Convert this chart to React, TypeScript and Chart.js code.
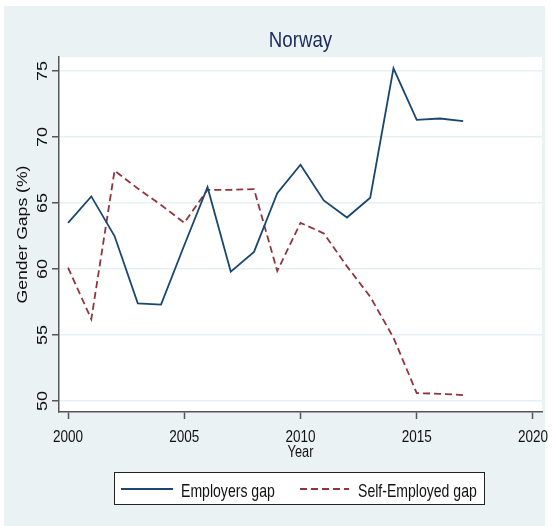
import React, { useEffect, useRef } from "react";
import { Chart, registerables } from "chart.js";

Chart.register(...registerables);

const years = [2000, 2001, 2002, 2003, 2004, 2005, 2006, 2007, 2008, 2009, 2010, 2011, 2012, 2013, 2014, 2015, 2016, 2017];
const employersGap = [63.5, 65.5, 62.5, 57.4, 57.3, 61.8, 66.2, 59.8, 61.3, 65.75, 67.9, 65.2, 63.9, 65.4, 75.2, 71.3, 71.4, 71.2];
const selfEmployedGap = [60.1, 56.2, 67.45, 66.1, 64.85, 63.5, 66.0, 66.0, 66.05, 59.85, 63.5, 62.7, 60.2, 57.9, 54.8, 50.6, 50.55, 50.45];
const seriesLabels = ["Employers gap", "Self-Employed gap"];
const xTicks = [2000, 2005, 2010, 2015, 2020];
const yTicks = [50, 55, 60, 65, 70, 75];
const titleText = "Norway";
const xTitleText = "Year";
const yTitleText = "Gender Gaps (%)";

const FONT = '"Liberation Sans", Arial, Helvetica, sans-serif';

function drawText(
  ctx: CanvasRenderingContext2D,
  text: string,
  x: number,
  y: number,
  size: number,
  sx: number,
  align: CanvasTextAlign,
  color: string,
  rotate = false
) {
  ctx.save();
  ctx.translate(x, y);
  ctx.scale(sx, 1);
  if (rotate) ctx.rotate(-Math.PI / 2);
  ctx.font = `${size}px ${FONT}`;
  ctx.textAlign = align;
  ctx.textBaseline = "alphabetic";
  ctx.fillStyle = color;
  ctx.fillText(text, 0, 0);
  ctx.restore();
}

const bgPlugin = {
  id: "stataBg",
  beforeDraw(chart: any) {
    const { ctx, chartArea } = chart;
    ctx.save();
    ctx.fillStyle = "#ffffff";
    ctx.fillRect(0, 0, chart.width, chart.height);
    ctx.fillStyle = "#eaf2f3";
    ctx.fillRect(4, 6, 541, 520);
    ctx.fillStyle = "#ffffff";
    ctx.fillRect(chartArea.left, chartArea.top, chartArea.right - chartArea.left, chartArea.bottom - chartArea.top);
    ctx.restore();
  },
};

const textPlugin = {
  id: "stataText",
  afterDraw(chart: any) {
    const { ctx, chartArea } = chart;
    const xs = chart.scales.x;
    const ys = chart.scales.y;
    const cx = (chartArea.left + chartArea.right) / 2;
    const cy = (chartArea.top + chartArea.bottom) / 2;

    // Title
    drawText(ctx, titleText, cx, 47.3, 22, 0.85, "center", "#1c2a5c");

    // X tick labels
    xTicks.forEach((t) => {
      drawText(ctx, String(t), xs.getPixelForValue(t), 441.7, 16.5, 0.82, "center", "#111111");
    });
    // X title
    drawText(ctx, xTitleText, cx, 456.7, 16, 0.8, "center", "#111111");

    // Y tick labels (rotated)
    yTicks.forEach((t) => {
      drawText(ctx, String(t), 47, ys.getPixelForValue(t), 18, 0.85, "center", "#111111", true);
    });
    // Y title
    drawText(ctx, yTitleText, 27, cy, 17.6, 0.85, "center", "#111111", true);

    // Legend
    ctx.save();
    ctx.fillStyle = "#ffffff";
    ctx.fillRect(114, 472, 371, 33);
    ctx.strokeStyle = "#222222";
    ctx.lineWidth = 1;
    ctx.strokeRect(114.5, 472.5, 370, 32);
    const ds = chart.data.datasets;
    const items = [
      { x0: 121, x1: 173, tx: 181 },
      { x0: 300, x1: 349, tx: 358 },
    ];
    items.forEach((it, i) => {
      ctx.save();
      ctx.strokeStyle = ds[i].borderColor;
      ctx.lineWidth = 2;
      ctx.setLineDash(ds[i].borderDash || []);
      ctx.beginPath();
      ctx.moveTo(it.x0, 489);
      ctx.lineTo(it.x1, 489);
      ctx.stroke();
      ctx.restore();
      drawText(ctx, ds[i].label, it.tx, 496.7, 18.5, 0.76, "left", "#111111");
    });
    ctx.restore();
  },
};

export default function App() {
  const ref = useRef<HTMLCanvasElement>(null);

  useEffect(() => {
    if (!ref.current) return;
    const chart = new Chart(ref.current, {
      type: "line",
      data: {
        datasets: [
          {
            label: seriesLabels[0],
            data: years.map((y, i) => ({ x: y, y: employersGap[i] })),
            borderColor: "#1a476f",
            borderWidth: 1.8,
            pointRadius: 0,
            tension: 0,
            fill: false,
          },
          {
            label: seriesLabels[1],
            data: years.map((y, i) => ({ x: y, y: selfEmployedGap[i] })),
            borderColor: "#90353b",
            borderWidth: 1.8,
            borderDash: [7, 4],
            pointRadius: 0,
            tension: 0,
            fill: false,
          },
        ],
      },
      options: {
        animation: false,
        responsive: false,
        devicePixelRatio: 1,
        layout: { padding: { left: 0, right: 10, top: 57, bottom: 0 } },
        plugins: {
          legend: { display: false },
          title: { display: false },
          tooltip: { enabled: false },
        },
        scales: {
          x: {
            type: "linear",
            min: 1999.61,
            max: 2020.39,
            afterBuildTicks: (s: any) => {
              s.ticks = xTicks.map((v) => ({ value: v }));
            },
            afterFit: (s: any) => {
              s.height = 114;
            },
            ticks: { display: false },
            grid: {
              drawOnChartArea: false,
              drawTicks: true,
              tickLength: 7,
              tickColor: "#555555",
              tickWidth: 1.5,
            },
            border: { display: true, color: "#555555", width: 1.5 },
          },
          y: {
            type: "linear",
            min: 49.17,
            max: 76.06,
            afterBuildTicks: (s: any) => {
              s.ticks = yTicks.map((v) => ({ value: v }));
            },
            afterFit: (s: any) => {
              s.width = 59;
            },
            ticks: { display: false },
            grid: {
              drawOnChartArea: true,
              color: "#e6eff1",
              lineWidth: 1.5,
              drawTicks: true,
              tickLength: 7,
              tickColor: "#555555",
              tickWidth: 1.5,
            },
            border: { display: true, color: "#555555", width: 1.5 },
          },
        },
      },
      plugins: [bgPlugin, textPlugin],
    } as any);
    return () => chart.destroy();
  }, []);

  return (
    <div style={{ position: "absolute", left: 0, top: 0, width: 552, height: 526 }}>
      <canvas ref={ref} width={552} height={526} style={{ display: "block" }} />
    </div>
  );
}
